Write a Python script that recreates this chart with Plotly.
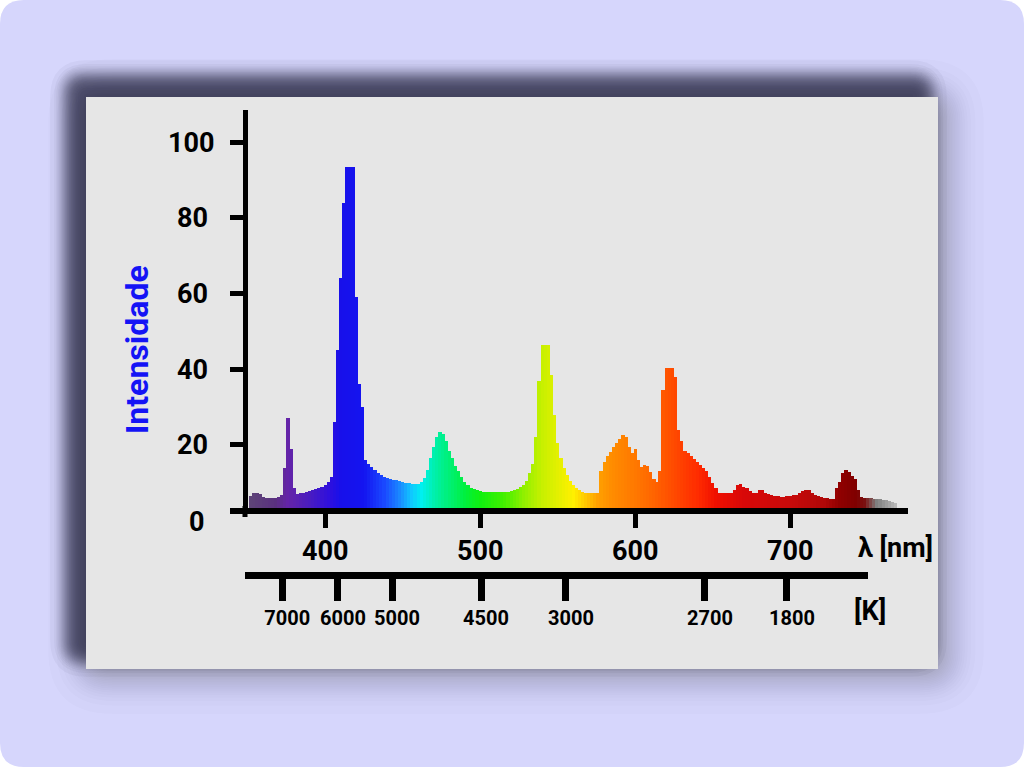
import plotly.graph_objects as go
from statistics import NormalDist

# spectrum, 2 nm steps
wavelength = list(range(352, 770, 2))
intensity = [
    6.5, 7.2, 7.4, 7.0, 6.2, 6.0, 6.0, 6.0, 6.0, 6.2,      # 352-370
    6.8, 14, 27, 19, 8.5, 7.0, 7.2, 7.4, 7.6, 7.8,         # 372-390
    8.0, 8.3, 8.6, 9.0, 9.4, 10.2, 11.5, 26, 45, 64,       # 392-410
    84, 93.5, 93.5, 93.5, 59, 36, 30, 16, 15, 14.2,        # 412-430
    13.5, 12.6, 12, 11.5, 11.2, 11, 10.8, 10.6, 10.4, 10.2,  # 432-450
    10, 9.9, 9.8, 9.8, 9.8, 10.2, 11.2, 13.5, 16.5, 19.5,  # 452-470
    22, 23.5, 23, 21, 18.5, 16.5, 14.5, 13, 11.5, 10.3,    # 472-490
    9.3, 8.7, 8.3, 8, 7.8, 7.6, 7.6, 7.5, 7.5, 7.5,        # 492-510
    7.5, 7.5, 7.6, 7.6, 7.8, 8, 8.3, 8.8, 9.5, 10.5,       # 512-530
    12.5, 15, 22, 37, 46.4, 46.4, 46.4, 38.5, 28, 20.5,    # 532-550
    16.5, 14, 12, 10.5, 9.4, 8.6, 8.0, 7.6, 7.4, 7.3,      # 552-570
    7.2, 7.2, 7.2, 13, 15.5, 17, 18, 19.5, 20.4, 21.5,     # 572-590
    22.6, 22, 19.5, 17.8, 19, 16, 14.2, 14.7, 14.5, 12.8,  # 592-610
    11, 10.3, 13, 34.5, 40.2, 40.2, 40.2, 38, 24, 21,      # 612-630
    18.5, 17.8, 17, 16.2, 15.6, 14.8, 14, 13, 11.5, 10,    # 632-650
    8.5, 7.2, 7.2, 7.2, 7.2, 7.4, 8, 9.5, 9.8, 9,          # 652-670
    8.5, 7.8, 7.2, 7.4, 8, 8.1, 7.4, 6.9, 6.8, 6.6,        # 672-690
    6.4, 6.3, 6.3, 6.4, 6.5, 6.7, 6.8, 7.2, 7.8, 8.1,      # 692-710
    8, 7.3, 6.8, 6.5, 6.2, 6.0, 5.9, 5.6, 5.6, 8.5,        # 712-730
    10.3, 12.5, 13.4, 12.8, 11.8, 11, 8, 6.3, 6.0, 5.9,    # 732-750
    5.9, 5.8, 5.7, 5.6, 5.5, 5.4, 5.2, 4.9, 4.6,           # 752-768
]

nm_ticks = [400, 500, 600, 700]
int_ticks = [20, 40, 60, 80, 100]
kelvin_nm = [372.2, 408.2, 443.1, 500.5, 555.3, 645.0, 697.9]
kelvin_labels = ["7000", "6000", "5000", "4500", "3000", "2700", "1800"]

# colour of the light at each wavelength
spectrum_stops = [
    (352, "#5e4478"), (368, "#5a3080"), (376, "#6424a8"), (390, "#4a1cc0"),
    (402, "#3010dc"), (410, "#1810ea"), (425, "#1414f0"), (438, "#1a48ff"),
    (448, "#1a88ff"), (456, "#10c8ff"), (462, "#00f0f0"), (470, "#00f0b0"),
    (478, "#00f080"), (490, "#00f040"), (500, "#10f010"), (515, "#40f000"),
    (528, "#90f000"), (540, "#c8f000"), (552, "#e8f000"), (560, "#fff000"),
    (568, "#ffc800"), (576, "#ffa000"), (585, "#ff8c00"), (600, "#ff7800"),
    (612, "#ff6400"), (622, "#ff5000"), (640, "#ff2c00"), (652, "#f01000"),
    (670, "#d80808"), (700, "#c80a0a"), (722, "#b00808"), (732, "#900000"),
    (742, "#800000"), (748, "#7a1010"), (756, "#808080"), (768, "#b8b8b8"),
]
lo, hi = spectrum_stops[0][0], spectrum_stops[-1][0]
colorscale = [[(w - lo) / (hi - lo), c] for w, c in spectrum_stops]

# pixel helpers for the decoration (plot area in pixels)
L, T, W, H = 230, 110, 678, 465


def fx(X):
    return (X - L) / W


def fy(Y):
    return (T + H - Y) / H


def rounded_rect(x0, y0, x1, y1, r):
    pts = [
        ("M", [(x0 + r, y0)]), ("L", [(x1 - r, y0)]), ("Q", [(x1, y0), (x1, y0 + r)]),
        ("L", [(x1, y1 - r)]), ("Q", [(x1, y1), (x1 - r, y1)]),
        ("L", [(x0 + r, y1)]), ("Q", [(x0, y1), (x0, y1 - r)]),
        ("L", [(x0, y0 + r)]), ("Q", [(x0, y0), (x0 + r, y0)]),
    ]
    s = ""
    for cmd, p in pts:
        s += cmd + " " + " ".join(f"{fx(a):.5f},{fy(b):.5f}" for a, b in p) + " "
    return s + "Z"


def soft_shadow(box, sigma, total, radius, n=28, rgb="35,35,45"):
    # stack of faint rounded rects, spread like a gaussian blur
    a = 1 - (1 - total) ** (1 / n)
    out = []
    for i in range(n):
        e = sigma * NormalDist().inv_cdf((i + 0.5) / n)
        x0, y0, x1, y1 = box
        out.append(dict(type="path", path=rounded_rect(x0 - e, y0 - e, x1 + e, y1 + e, max(2, radius + e)),
                        xref="paper", yref="paper", fillcolor=f"rgba({rgb},{a:.4f})",
                        line_width=0, layer="below"))
    return out


shapes = [dict(type="path", path=rounded_rect(0, 0, 1024, 767, 24), xref="paper", yref="paper",
               fillcolor="#d6d6fc", line_width=0, layer="below")]
shapes += soft_shadow((84, 95, 948, 678), 17, 0.36, 28, rgb="60,60,70")
shapes += soft_shadow((67, 77, 930, 660), 8, 0.66, 20)
shapes.append(dict(type="rect", x0=fx(86), x1=fx(938), y0=fy(669), y1=fy(97),
                   xref="paper", yref="paper", fillcolor="#e6e6e6", line_width=0, layer="below"))
# short stub of the y axis below the x axis
shapes.append(dict(type="line", x0=fx(245), x1=fx(245), y0=fy(506), y1=fy(517),
                   xref="paper", yref="paper", line=dict(color="black", width=5)))

fig = go.Figure()

fig.add_trace(
    go.Bar(
        x=wavelength,
        y=intensity,
        width=2.15,
        marker=dict(color=wavelength, colorscale=colorscale, cmin=lo, cmax=hi, line_width=0),
        hoverinfo="x+y",
    )
)

# carrier for the colour temperature axis
fig.add_trace(
    go.Scatter(x=kelvin_nm, y=[None] * len(kelvin_nm), xaxis="x2", yaxis="y",
               mode="markers", hoverinfo="skip")
)

bold = dict(family="Roboto", size=27, color="black", weight="bold")

fig.update_layout(
    width=1024,
    height=767,
    margin=dict(l=L, r=1024 - L - W, t=T, b=767 - T - H),
    paper_bgcolor="white",
    plot_bgcolor="rgba(0,0,0,0)",
    showlegend=False,
    bargap=0,
    font=dict(family="Roboto", color="black"),
    xaxis=dict(
        domain=[0, 1],
        range=[338.55, 775.97],
        anchor="y",
        tickvals=nm_ticks,
        ticks="outside",
        ticklen=14,
        tickwidth=5,
        tickcolor="black",
        showline=True,
        linewidth=6,
        linecolor="black",
        tickfont=bold,
        showgrid=False,
        zeroline=False,
    ),
    yaxis=dict(
        domain=[fy(508), 1],
        range=[(520.6 - 508) / 3.785, (520.6 - 110) / 3.785],
        anchor="free",
        position=fx(245),
        tickvals=int_ticks,
        ticktext=[f"{v}" if v >= 100 else f"{v}\u00a0" for v in int_ticks],
        ticks="outside",
        ticklen=13,
        tickwidth=5,
        tickcolor="black",
        ticklabelstandoff=10,
        showline=True,
        linewidth=5,
        linecolor="black",
        tickfont=bold,
        showgrid=False,
        zeroline=False,
    ),
    xaxis2=dict(
        domain=[fx(245), fx(868)],
        range=[348.2, 750.2],
        anchor="free",
        position=0,
        side="bottom",
        tickvals=kelvin_nm,
        ticktext=kelvin_labels,
        ticks="outside",
        ticklen=22,
        tickwidth=6.5,
        tickcolor="black",
        showline=True,
        linewidth=6.5,
        linecolor="black",
        tickfont=dict(family="Roboto", size=20, color="black", weight="bold"),
        ticklabelshift=5,
        showgrid=False,
        zeroline=False,
    ),
    shapes=shapes,
    annotations=[
        dict(text="0", x=fx(196.5), y=fy(522), xref="paper", yref="paper", xanchor="center",
             yanchor="middle", showarrow=False, font=bold),
        dict(text="λ [nm]", x=fx(895), y=fy(548), xref="paper", yref="paper",
             xanchor="center", yanchor="middle", showarrow=False, font=bold),
        dict(text="[K]", x=fx(870), y=fy(611), xref="paper", yref="paper",
             xanchor="center", yanchor="middle", showarrow=False, font=bold),
        dict(text="Intensidade", x=fx(137), y=fy(350), xref="paper", yref="paper",
             xanchor="center", yanchor="middle", textangle=-90, showarrow=False,
             font=dict(family="Roboto", size=32, color="#1414f5", weight="bold")),
    ],
)

fig.write_html("out.html", config={"displayModeBar": False},
               post_script="document.body.style.margin='0';")
